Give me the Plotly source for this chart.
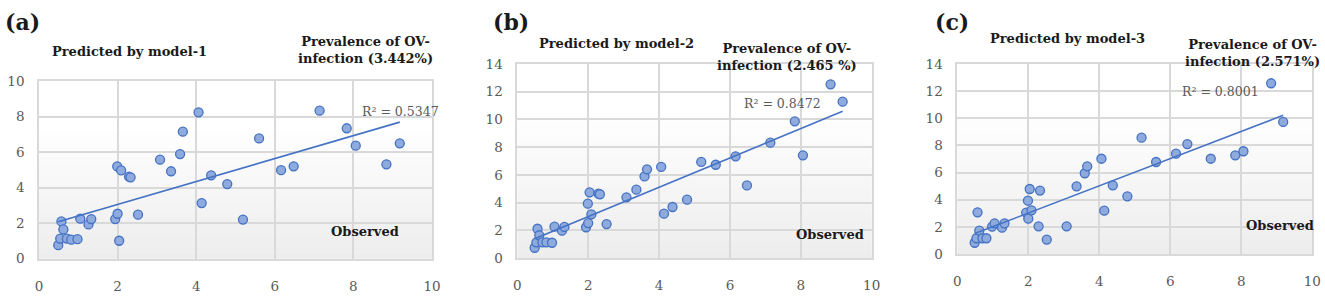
import numpy as np
import plotly.graph_objects as go

# ---------------- data ----------------
observed = [0.49, 0.54, 0.57, 0.62, 0.71, 0.82, 0.98, 1.05, 1.26, 1.33,
            1.94, 1.99, 2.00, 2.04, 2.09, 2.29, 2.33, 2.52, 3.08, 3.36,
            3.59, 3.66, 4.06, 4.14, 4.38, 4.79, 5.19, 5.60, 6.16, 6.48,
            7.14, 7.83, 8.06, 8.84, 9.18]
pred_model1 = [0.76, 1.13, 2.10, 1.65, 1.13, 1.07, 1.10, 2.25, 1.93, 2.23,
               2.23, 5.20, 2.53, 1.01, 4.97, 4.62, 4.58, 2.48, 5.57, 4.92,
               5.89, 7.15, 8.24, 3.13, 4.69, 4.20, 2.20, 6.77, 4.98, 5.20,
               8.33, 7.34, 6.36, 5.31, 6.49]
pred_model2 = [0.74, 1.13, 2.11, 1.64, 1.13, 1.13, 1.10, 2.26, 1.97, 2.24,
               2.22, 3.92, 2.52, 4.74, 3.15, 4.64, 4.60, 2.45, 4.38, 4.93,
               5.89, 6.40, 6.57, 3.20, 3.68, 4.21, 6.93, 6.73, 7.34, 5.24,
               8.32, 9.86, 7.41, 12.53, 11.28]
pred_model3 = [0.83, 1.16, 3.07, 1.72, 1.16, 1.16, 2.01, 2.26, 1.94, 2.26,
               3.05, 3.93, 2.60, 4.79, 3.22, 2.04, 4.67, 1.06, 2.04, 4.99,
               5.95, 6.46, 7.02, 3.19, 5.06, 4.25, 8.57, 6.78, 7.39, 8.10,
               7.02, 7.27, 7.57, 12.58, 9.73]

panel_labels = ["(a)", "(b)", "(c)"]
titles = ["Predicted by model-1", "Predicted by model-2", "Predicted by model-3"]
prevalence = ["Prevalence of OV-<br>infection (3.442%)",
              "Prevalence of OV-<br>infection (2.465 %)",
              "Prevalence of OV-<br>infection (2.571%)"]
r2_labels = ["R² = 0.5347", "R² = 0.8472", "R² = 0.8001"]
y_max = [10, 14, 14]
x_ticks = [0, 2, 4, 6, 8, 10]

# ---------------- layout geometry (pixels) ----------------
W, H = 1325, 296
plot_px = [  # x0, x1, ytop, ybottom
    (39, 432, 81, 258.7),
    (517.3, 871.7, 64, 258),
    (957.3, 1312.3, 64, 254),
]
ann_px = [
    dict(lab=(22, 22), title=(129, 52), prev=(365, 50), r2=(400, 111), obs=(365, 231)),
    dict(lab=(511, 22), title=(616, 43), prev=(787, 57), r2=(782, 103), obs=(830, 234)),
    dict(lab=(952, 22), title=(1067, 38), prev=(1252, 53), r2=(1220, 91), obs=(1280, 225)),
]

def px(x, y):
    return x / W, 1 - y / H

FONT = "DejaVu Serif"
GRID = "#d9d9d9"
TICK = "#595959"
BLUE = "#4472c4"
FILL = "#8faadc"

fig = go.Figure()
preds = [pred_model1, pred_model2, pred_model3]
annotations = []
shapes = []

for i in range(3):
    sfx = "" if i == 0 else str(i + 1)
    xa, ya = "x" + sfx, "y" + sfx
    x0, x1, yt, yb = plot_px[i]
    d_x = [x0 / W, x1 / W]
    d_y = [1 - yb / H, 1 - yt / H]
    axis_common = dict(showgrid=True, gridcolor=GRID, gridwidth=1.6, zeroline=False,
                       showline=True, linecolor=GRID, linewidth=1.6, mirror=True,
                       ticks="", tickfont=dict(family=FONT, size=13.5, color=TICK),
                       automargin=False, fixedrange=True)
    fig.layout["xaxis" + sfx] = dict(domain=d_x, range=[0, 10], tickvals=x_ticks,
                                     anchor=ya, ticklabelstandoff=14, **axis_common)
    fig.layout["yaxis" + sfx] = dict(domain=d_y, range=[0, y_max[i]], dtick=2,
                                     anchor=xa, ticklabelstandoff=10, **axis_common)

    # gradient background bands
    nb = 30
    for k in range(nb):
        t0, t1 = k / nb, (k + 1) / nb
        tm = (t0 + t1) / 2
        g = int(round(237 + (255 - 237) * min(1.0, tm / 0.75)))
        shapes.append(dict(type="rect", xref=xa + " domain", yref=ya + " domain",
                           x0=0, x1=1, y0=t0, y1=t1 + 0.002, layer="below",
                           line=dict(width=0), fillcolor=f"rgb({g},{g},{g})"))

    y = preds[i]
    fig.add_trace(go.Scatter(x=observed, y=y, mode="markers", xaxis=xa, yaxis=ya,
                             marker=dict(size=9, color=FILL, line=dict(color=BLUE, width=1.3)),
                             showlegend=False, hoverinfo="x+y"))
    m, b = np.polyfit(observed, y, 1)
    xs = [min(observed), max(observed)]
    fig.add_trace(go.Scatter(x=xs, y=[m * v + b for v in xs], mode="lines",
                             xaxis=xa, yaxis=ya, line=dict(color=BLUE, width=1.6),
                             showlegend=False, hoverinfo="skip"))

    a = ann_px[i]
    def add(pos, text, size, bold=True, color="#1a1a1a"):
        ax, ay = px(*pos)
        annotations.append(dict(x=ax, y=ay, xref="paper", yref="paper", text=(f"<b>{text}</b>" if bold else text),
                                showarrow=False, xanchor="center", yanchor="middle", align="center",
                                font=dict(family=FONT, size=size, color=color)))
    add(a["lab"], panel_labels[i], 22)
    add(a["title"], titles[i], 13)
    add(a["prev"], prevalence[i].replace("<br>", "</b><br><b>"), 13)
    add(a["r2"], r2_labels[i], 12.5, bold=False, color=TICK)
    add(a["obs"], "Observed", 13)

fig.update_layout(width=W, height=H, margin=dict(l=0, r=0, t=0, b=0),
                  paper_bgcolor="white", plot_bgcolor="white",
                  annotations=annotations, shapes=shapes, showlegend=False)

fig.write_html("out.html", config={"displayModeBar": False},
               post_script="document.body.style.margin='0px';document.body.style.overflow='hidden';")
